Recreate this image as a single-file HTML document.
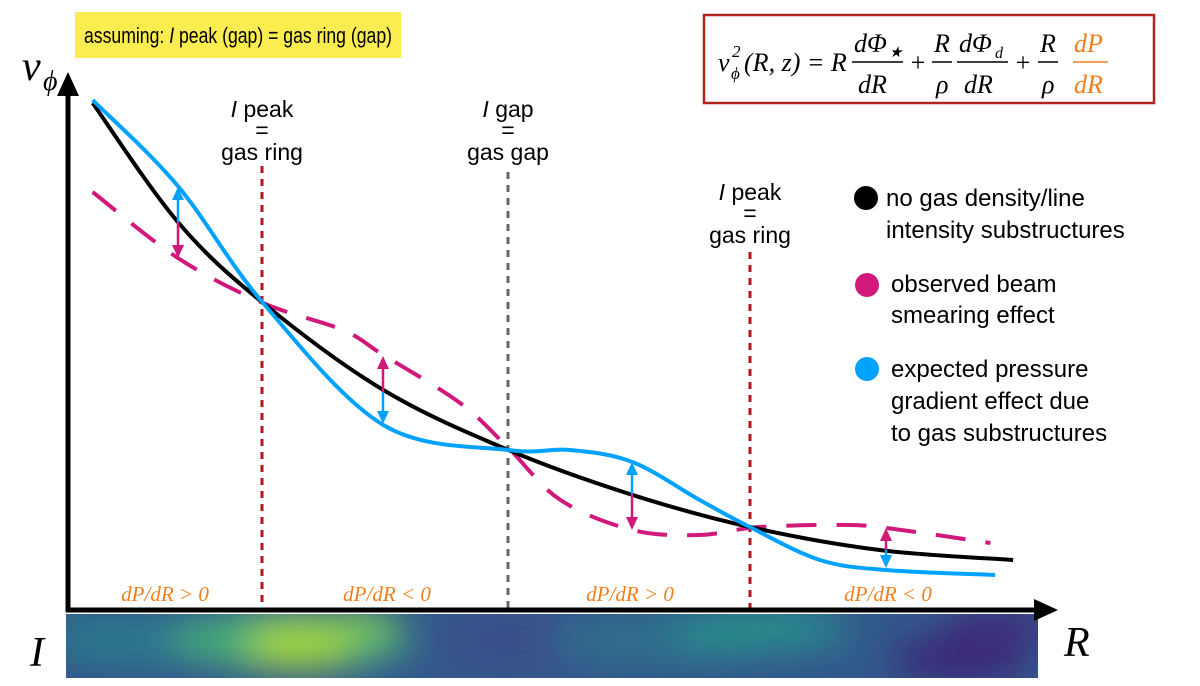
<!DOCTYPE html>
<html><head><meta charset="utf-8"><style>
html,body{margin:0;padding:0;background:#fff;width:1200px;height:686px;overflow:hidden}
svg{display:block}
text{font-family:"Liberation Sans",sans-serif}
text.serif,.serif text{font-family:"Liberation Serif",serif;font-style:italic}
</style></head><body>
<svg id="chart" width="1200" height="686" viewBox="0 0 1200 686" xmlns="http://www.w3.org/2000/svg">
<defs>
<filter id="blur" x="-20%" y="-50%" width="140%" height="200%"><feGaussianBlur stdDeviation="18"/></filter>
<clipPath id="stripclip"><rect x="66" y="614" width="972" height="64"/></clipPath>
</defs>
<g>
<rect x="75" y="12" width="326" height="46" fill="#fbed4f"/>
<text x="238" y="43" font-size="22" text-anchor="middle" textLength="308" lengthAdjust="spacingAndGlyphs">assuming: <tspan font-style="italic">I</tspan> peak (gap) = gas ring (gap)</text>
</g>
<g>
<rect x="704" y="15" width="450" height="88" fill="#fff" stroke="#b0231a" stroke-width="2.5"/>
<g class="serif" font-size="26">
<text x="718" y="71">v</text><text x="731" y="79" font-size="17">ϕ</text><text x="732" y="57" font-size="17" font-style="normal">2</text>
<text x="744" y="71" font-style="normal">(<tspan font-style="italic">R</tspan>, <tspan font-style="italic">z</tspan>) = <tspan font-style="italic">R</tspan></text>
<line x1="852" y1="62" x2="903" y2="62" stroke="#000" stroke-width="1.5"/>
<text x="854" y="52">dΦ</text><text x="889" y="57" font-size="15" font-style="normal">★</text>
<text x="858" y="93">dR</text>
<text x="909" y="71" font-style="normal">+</text>
<line x1="932" y1="62" x2="952" y2="62" stroke="#000" stroke-width="1.5"/>
<text x="934" y="52">R</text><text x="936" y="93">ρ</text>
<line x1="957" y1="62" x2="1008" y2="62" stroke="#000" stroke-width="1.5"/>
<text x="959" y="52">dΦ</text><text x="995" y="58" font-size="16">d</text>
<text x="964" y="93">dR</text>
<text x="1014" y="71" font-style="normal">+</text>
<line x1="1038" y1="62" x2="1058" y2="62" stroke="#000" stroke-width="1.5"/>
<text x="1040" y="52">R</text><text x="1042" y="93">ρ</text>
<line x1="1073" y1="62" x2="1108" y2="62" stroke="#f07f1a" stroke-width="1.5"/>
<text x="1074" y="52" fill="#f07f1a">dP</text><text x="1074" y="93" fill="#f07f1a">dR</text>
</g>
</g>
<g clip-path="url(#stripclip)">
<rect x="66" y="614" width="972" height="64" fill="#33588c"/>
<g filter="url(#blur)">
<ellipse cx="130" cy="640" rx="90" ry="25" fill="#2a7a8e"/>
<ellipse cx="290" cy="640" rx="120" ry="30" fill="#45b078"/>
<ellipse cx="300" cy="645" rx="55" ry="22" fill="#a8dc35"/>
<ellipse cx="360" cy="625" rx="40" ry="14" fill="#7ccc55"/>
<ellipse cx="520" cy="640" rx="80" ry="30" fill="#3b4f8a"/>
<ellipse cx="660" cy="640" rx="110" ry="25" fill="#2f6f8d"/>
<ellipse cx="760" cy="630" rx="90" ry="20" fill="#25938b"/>
<ellipse cx="960" cy="660" rx="70" ry="22" fill="#3b2877"/>
<ellipse cx="1000" cy="625" rx="60" ry="18" fill="#412f7c"/>
</g>
</g>
<line x1="262" y1="166" x2="262" y2="610" stroke="#b3161a" stroke-width="3" stroke-dasharray="7,6"/>
<line x1="508" y1="172" x2="508" y2="610" stroke="#666" stroke-width="3" stroke-dasharray="7,6"/>
<line x1="750" y1="252" x2="750" y2="610" stroke="#b3161a" stroke-width="3" stroke-dasharray="7,6"/>
<g id="series"></g>
<g id="arrows"></g>
<g>
<line x1="68" y1="612" x2="68" y2="92" stroke="#000" stroke-width="5"/>
<polygon points="68,72 57,96 79,96" fill="#000"/>
<line x1="66" y1="610" x2="1036" y2="610" stroke="#000" stroke-width="5"/>
<polygon points="1058,610 1034,599 1034,621" fill="#000"/>
</g>
<text class="serif" x="22" y="80" font-size="42">v</text>
<text class="serif" x="43" y="90" font-size="28">ϕ</text>
<text class="serif" x="1064" y="656" font-size="42">R</text>
<text class="serif" x="30" y="666" font-size="42">I</text>
<g class="serif" font-size="21" fill="#f07f1a" text-anchor="middle">
<text x="165" y="601">dP/dR &gt; 0</text>
<text x="387" y="601">dP/dR &lt; 0</text>
<text x="630" y="601">dP/dR &gt; 0</text>
<text x="888" y="601">dP/dR &lt; 0</text>
</g>
<g font-size="23" text-anchor="middle">
<g><text x="262" y="117"><tspan font-style="italic">I</tspan> peak</text><text x="262" y="138">=</text><text x="262" y="160">gas ring</text></g>
<g><text x="508" y="117"><tspan font-style="italic">I</tspan> gap</text><text x="508" y="138">=</text><text x="508" y="160">gas gap</text></g>
<g><text x="750" y="200"><tspan font-style="italic">I</tspan> peak</text><text x="750" y="221">=</text><text x="750" y="243">gas ring</text></g>
</g>
<g font-size="24">
<g><circle cx="866" cy="198" r="12" fill="#000"/><text x="886" y="206">no gas density/line</text><text x="886" y="238">intensity substructures</text></g>
<g><circle cx="867" cy="285" r="12" fill="#d0197a"/><text x="891" y="292">observed beam</text><text x="891" y="323">smearing effect</text></g>
<g><circle cx="867" cy="369" r="12" fill="#00a2ff"/><text x="891" y="377">expected pressure</text><text x="891" y="409">gradient effect due</text><text x="891" y="441">to gas substructures</text></g>
</g>
</svg>
<script>
const blackR=[0.26,1.16,2.06,3.33,4.65,5.93,7.2,8.57,9.98];
const blackV=[9.94,7.56,5.94,4.2,3.0,2.12,1.46,1.0,0.8];
const blueR=[0.26,1.16,2.06,3.33,4.65,5.30,5.96,6.67,7.2,7.94,8.64,9.79];
const blueV=[10.0,8.28,5.94,3.5,3.0,3.0,2.76,2.0,1.46,0.8,0.6,0.5];
const smearR=[0.26,1.16,2.06,2.9,3.33,4.14,4.65,5.2,5.96,6.67,7.3,8.26,8.8,9.74];
const smearV=[8.16,6.84,5.94,5.4,4.9,3.94,3.04,2.0,1.4,1.3,1.46,1.5,1.4,1.14];
const x=r=>68+r*94.7, y=v=>600-v*50;
function path(R,V){const p=R.map((r,i)=>[x(r),y(V[i])]);let d='M'+p[0][0]+','+p[0][1];
for(let i=0;i<p.length-1;i++){const p0=p[Math.max(0,i-1)],p1=p[i],p2=p[i+1],p3=p[Math.min(p.length-1,i+2)];
d+=' C'+(p1[0]+(p2[0]-p0[0])/6)+','+(p1[1]+(p2[1]-p0[1])/6)+' '+(p2[0]-(p3[0]-p1[0])/6)+','+(p2[1]-(p3[1]-p1[1])/6)+' '+p2[0]+','+p2[1];}return d;}
const NS='http://www.w3.org/2000/svg',g=document.getElementById('series');
function add(R,V,col,dash,name){const e=document.createElementNS(NS,'path');e.setAttribute('d',path(R,V));e.setAttribute('fill','none');e.setAttribute('stroke',col);e.setAttribute('stroke-width','4');if(dash)e.setAttribute('stroke-dasharray',dash);


g.appendChild(e);}
add(smearR,smearV,'#d0197a','30,20','beam-smearing-curve');
add(blackR,blackV,'#000',null,'no-substructure-curve');
add(blueR,blueV,'#00a2ff',null,'pressure-gradient-curve');
const ag=document.getElementById('arrows');
function arrow(xx,y1,y2,col){const d=y2>y1?1:-1;const l=document.createElementNS(NS,'line');l.setAttribute('x1',xx);l.setAttribute('x2',xx);l.setAttribute('y1',y1);l.setAttribute('y2',y2-d*6);l.setAttribute('stroke',col);l.setAttribute('stroke-width','2.5');


ag.appendChild(l);const h=document.createElementNS(NS,'polygon');h.setAttribute('points',xx+','+y2+' '+(xx-6)+','+(y2-d*13)+' '+(xx+6)+','+(y2-d*13));h.setAttribute('fill',col);


ag.appendChild(h);}
arrow(178,222,187,'#00a2ff');arrow(178,222,258,'#d0197a');
arrow(383,392,356,'#d0197a');arrow(383,392,424,'#00a2ff');
arrow(632,494,462,'#00a2ff');arrow(632,494,530,'#d0197a');
arrow(886,550,528,'#d0197a');arrow(886,550,568,'#00a2ff');
</script>
</body></html>
